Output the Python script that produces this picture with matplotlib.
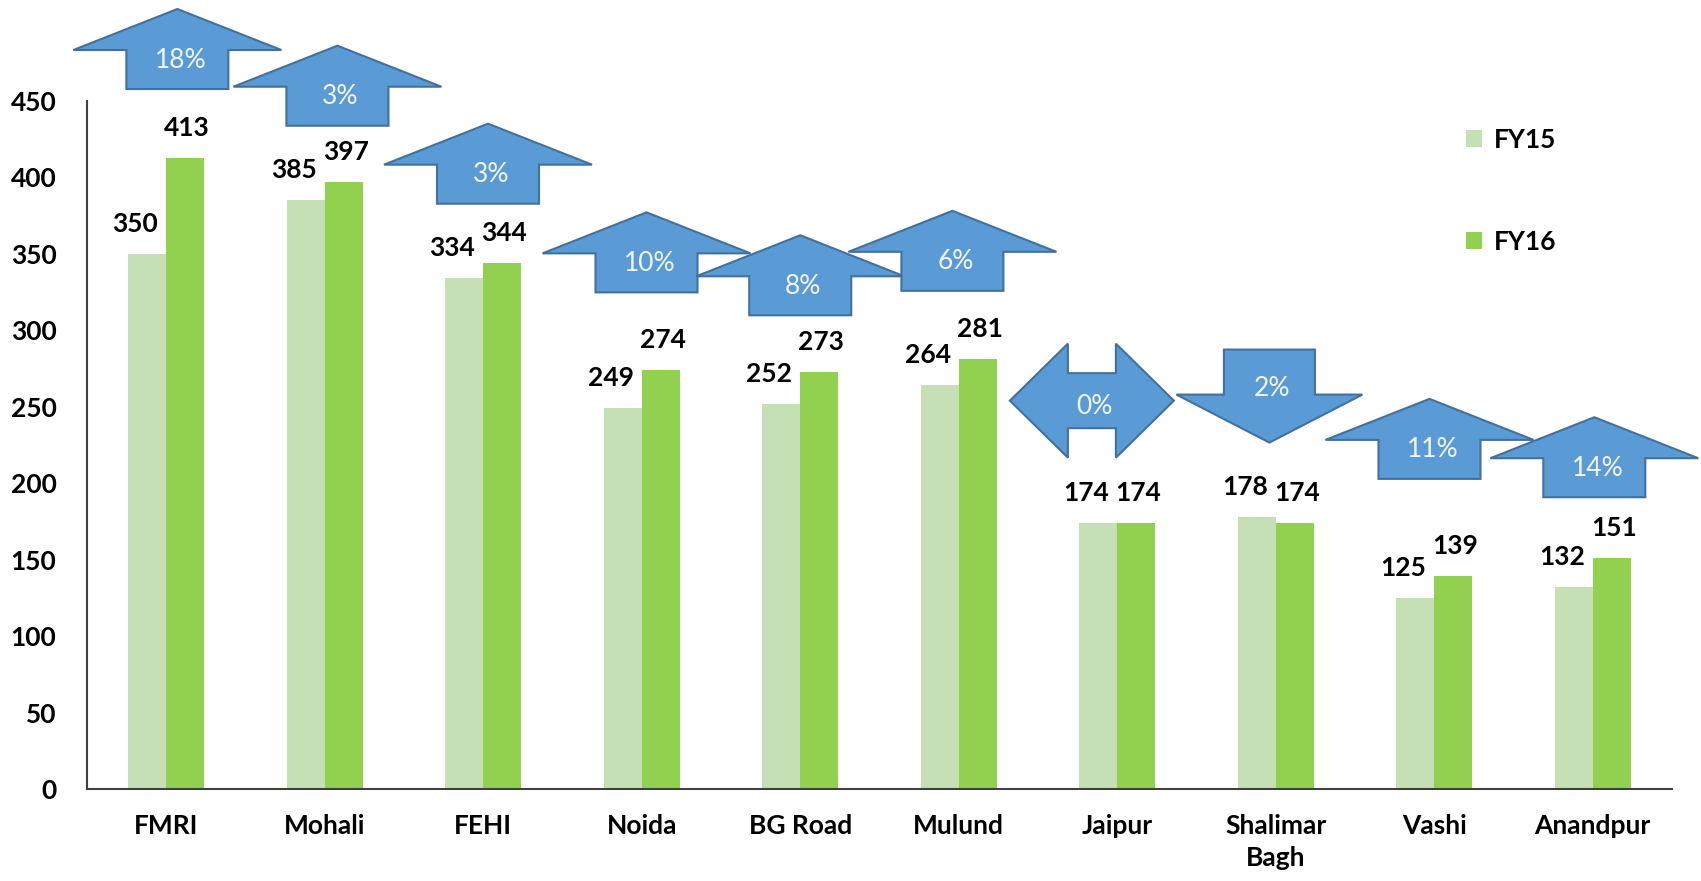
import matplotlib
matplotlib.use('Agg')
import matplotlib.pyplot as plt
from matplotlib.patches import Polygon, Patch
from matplotlib.transforms import ScaledTranslation
import numpy as np

plt.rcParams['font.family'] = ['Lato', 'DejaVu Sans']

sites = ['FMRI', 'Mohali', 'FEHI', 'Noida', 'BG Road', 'Mulund', 'Jaipur',
         'Shalimar\nBagh', 'Vashi', 'Anandpur']
fy15 = [350, 385, 334, 249, 252, 264, 174, 178, 125, 132]
fy16 = [413, 397, 344, 274, 273, 281, 174, 174, 139, 151]
yticks = [0, 50, 100, 150, 200, 250, 300, 350, 400, 450]

# growth arrows: x shift from the group centre, y of the arrow centre (data units)
arrow_dx = [0.07, 0.08, 0.03, 0.03, 0.0, -0.04, -0.16, -0.04, -0.03, 0.01]
arrow_y = [484, 460, 409, 351, 336, 352, 254, 257, 229, 217]

c15 = '#C5E0B4'
c16 = '#92D050'
arrow_face = '#5B9BD5'
arrow_edge = '#41719C'
fs = 19

fig = plt.figure(figsize=(17.01, 8.81), dpi=100)
ax = fig.add_axes([87 / 1701, 92 / 881, 1585 / 1701, 688 / 881])

x = np.arange(len(sites))
w = 0.24
ax.bar(x - w / 2, fy15, w, color=c15, label='FY15')
ax.bar(x + w / 2, fy16, w, color=c16, label='FY16')

for i in range(len(sites)):
    ax.annotate(str(fy15[i]), (x[i] - w / 2, fy15[i]), xytext=(-8.6, 21.6),
                textcoords='offset points', ha='center', va='center',
                fontsize=fs, fontweight='bold')
    ax.annotate(str(fy16[i]), (x[i] + w / 2, fy16[i]), xytext=(1.4, 21.6),
                textcoords='offset points', ha='center', va='center',
                fontsize=fs, fontweight='bold')


def up_arrow(wd=2.08, sw=1.02, h=0.80, hh=0.41):
    t = h / 2
    b = h / 2 - hh
    return [(0, t), (wd / 2, b), (sw / 2, b), (sw / 2, -t), (-sw / 2, -t),
            (-sw / 2, b), (-wd / 2, b)]


def down_arrow(wd=1.86, sw=0.91, h=0.93, hh=0.48):
    return [(px, -py) for px, py in up_arrow(wd, sw, h, hh)]


def both_arrow(L=1.64, H=1.14, sh=0.55, hl=0.58):
    a = -L / 2 + hl
    b = L / 2 - hl
    return [(-L / 2, 0), (a, H / 2), (a, sh / 2), (b, sh / 2), (b, H / 2),
            (L / 2, 0), (b, -H / 2), (b, -sh / 2), (a, -sh / 2), (a, -H / 2)]


for i in range(len(sites)):
    pct = round((fy16[i] / fy15[i] - 1) * 100)
    if pct > 0:
        verts, ty = up_arrow(), -0.11
    elif pct < 0:
        verts, ty = down_arrow(), 0.08
    else:
        verts, ty = both_arrow(), -0.06
    tr = fig.dpi_scale_trans + ScaledTranslation(x[i] + arrow_dx[i], arrow_y[i], ax.transData)
    poly = Polygon(verts, closed=True, transform=tr, facecolor=arrow_face,
                   edgecolor=arrow_edge, linewidth=1.5, clip_on=False, zorder=3 + i * 0.01)
    ax.add_patch(poly)
    ax.text(0.03, ty, f'{abs(pct)}%', transform=tr, ha='center', va='center',
            fontsize=fs, color='#F2F6FB', zorder=4, clip_on=False)

ax.set_xlim(-0.5, len(sites) - 0.5)
ax.set_ylim(0, 450)
ax.set_yticks(yticks)
ax.set_xticks(x)
ax.set_xticklabels(sites, linespacing=1.4)
for lab in ax.get_xticklabels() + ax.get_yticklabels():
    lab.set_fontweight('bold')
    lab.set_fontsize(fs)
ax.tick_params(axis='x', length=0, pad=18)
ax.tick_params(axis='y', length=0, pad=22)

for side in ['top', 'right']:
    ax.spines[side].set_visible(False)
for side in ['left', 'bottom']:
    ax.spines[side].set_color('#404040')
    ax.spines[side].set_linewidth(1.5)

handles = [Patch(facecolor=c15, label='FY15'), Patch(facecolor=c16, label='FY16')]
ax.legend(handles=handles, loc='upper left', bbox_to_anchor=(1466 / 1701, 1 - 128 / 881),
          bbox_transform=fig.transFigure, frameon=False, borderpad=0, borderaxespad=0,
          handlelength=0.62, handleheight=0.62, handletextpad=0.45, labelspacing=2.95,
          prop={'size': fs, 'weight': 'bold'})

fig.savefig('out.png', dpi=100)
